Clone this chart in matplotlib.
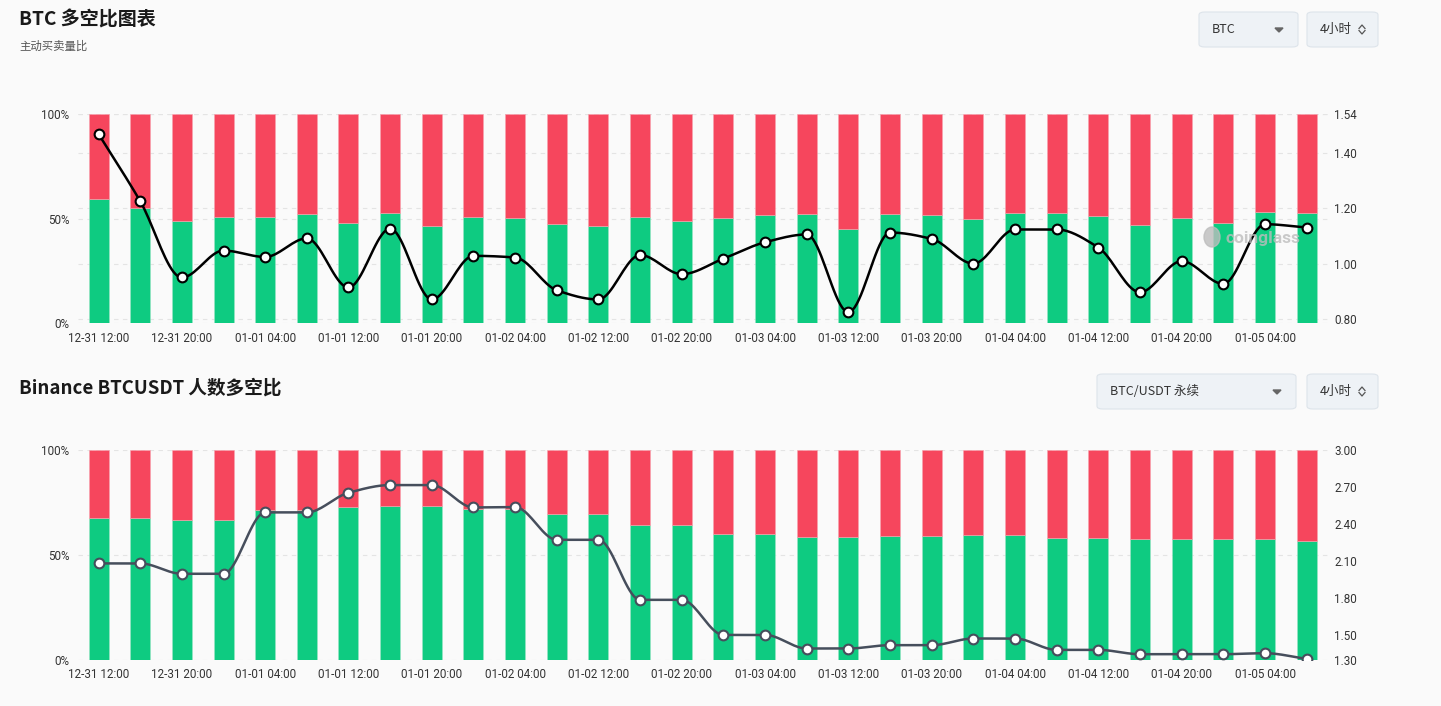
import numpy as np
import matplotlib.pyplot as plt
from matplotlib.patches import FancyBboxPatch, Ellipse
from matplotlib.lines import Line2D

plt.rcParams['font.family'] = ['Noto Sans CJK SC', 'DejaVu Sans']

# 时间轴 (4小时)
times = ["12-31 12:00", "12-31 16:00", "12-31 20:00", "01-01 00:00", "01-01 04:00", "01-01 08:00",
         "01-01 12:00", "01-01 16:00", "01-01 20:00", "01-02 00:00", "01-02 04:00", "01-02 08:00",
         "01-02 12:00", "01-02 16:00", "01-02 20:00", "01-03 00:00", "01-03 04:00", "01-03 08:00",
         "01-03 12:00", "01-03 16:00", "01-03 20:00", "01-04 00:00", "01-04 04:00", "01-04 08:00",
         "01-04 12:00", "01-04 16:00", "01-04 20:00", "01-05 00:00", "01-05 04:00", "01-05 08:00"]

# 主动买卖量比: 买入占比 (%) 和 多空比
taker_buy_pct = [59.4, 54.9, 48.7, 50.9, 50.6, 52.1, 47.8, 52.9, 46.5, 50.6,
                 50.5, 47.3, 46.3, 50.6, 48.9, 50.3, 51.6, 52.4, 44.9, 52.4,
                 51.9, 49.8, 52.7, 52.7, 51.3, 47.1, 50.2, 47.9, 53.3, 52.9]
taker_ratio = [1.468, 1.226, 0.951, 1.048, 1.025, 1.092, 0.915, 1.127, 0.872, 1.029,
               1.023, 0.905, 0.872, 1.032, 0.963, 1.019, 1.078, 1.106, 0.826, 1.113,
               1.090, 1.001, 1.124, 1.124, 1.059, 0.898, 1.010, 0.928, 1.143, 1.131]

# Binance BTCUSDT 人数多空比: 多头占比 (%) 和 多空比
acct_long_pct = [67.6, 67.6, 66.7, 66.7, 71.4, 71.4, 72.9, 73.2, 73.2, 71.7,
                 71.7, 69.5, 69.5, 64.1, 64.1, 60.2, 60.2, 58.4, 58.4, 58.9,
                 58.9, 59.7, 59.7, 58.1, 58.1, 57.5, 57.5, 57.5, 57.6, 56.7]
acct_ratio = [2.082, 2.082, 1.998, 1.998, 2.495, 2.495, 2.654, 2.716, 2.716, 2.535,
              2.538, 2.273, 2.273, 1.787, 1.787, 1.503, 1.503, 1.393, 1.393, 1.420,
              1.420, 1.474, 1.474, 1.382, 1.382, 1.347, 1.347, 1.347, 1.355, 1.309]

right_ticks_top = [0.80, 1.00, 1.20, 1.40, 1.54]
right_ticks_bot = [1.30, 1.50, 1.80, 2.10, 2.40, 2.70, 3.00]

GREEN = '#0ecb81'
RED = '#f6465d'
BG = '#fafafa'
GRID = '#e4e4e4'
W, H = 1441, 706


def pchip(y, n=20):
    # 单调三次插值, 平滑折线
    y = np.asarray(y, float)
    x = np.arange(len(y), dtype=float)
    d = np.diff(y)
    m = np.zeros_like(y)
    for i in range(1, len(y) - 1):
        if d[i - 1] * d[i] > 0:
            m[i] = 2 * d[i - 1] * d[i] / (d[i - 1] + d[i])
    m[0], m[-1] = d[0], d[-1]
    xs, ys = [], []
    for i in range(len(y) - 1):
        t = np.linspace(0, 1, n, endpoint=False)
        h00 = 2 * t**3 - 3 * t**2 + 1
        h10 = t**3 - 2 * t**2 + t
        h01 = -2 * t**3 + 3 * t**2
        h11 = t**3 - t**2
        xs.append(x[i] + t)
        ys.append(h00 * y[i] + h10 * m[i] + h01 * y[i + 1] + h11 * m[i + 1])
    xs.append([x[-1]])
    ys.append([y[-1]])
    return np.concatenate(xs), np.concatenate(ys)


def fx(px):
    return px / W


def fy(py):
    return 1 - py / H


fig = plt.figure(figsize=(W / 100, H / 100), dpi=100, facecolor=BG)


def panel(rect, pct, ratio, ylim2, rticks, line_color, right_grid):
    ax = fig.add_axes(rect)
    ax.set_facecolor(BG)
    x = np.arange(len(times))
    red = [100 - p for p in pct]
    ax.bar(x, pct, width=0.48, color=GREEN, edgecolor='#9be5c5', linewidth=0.4, zorder=2)
    ax.bar(x, red, bottom=pct, width=0.48, color=RED, edgecolor='#f7a4af', linewidth=0.4, zorder=2)
    ax.set_xlim(-0.5, len(times) - 0.5)
    ax.set_ylim(0, 100)
    ax.set_yticks([0, 50, 100])
    ax.set_yticklabels(['0%', '50%', '100%'])
    ax.set_xticks(x[::2])
    ax.set_xticklabels(times[::2])
    ax.yaxis.grid(True, linestyle=(0, (4, 4)), color=GRID, linewidth=0.8, zorder=0)
    ax.set_axisbelow(True)
    ax.tick_params(length=0, labelsize=8.4, colors='#333333', pad=6)
    for lab in ax.get_xticklabels() + ax.get_yticklabels():
        lab.set_family('Roboto')
    for s in ax.spines.values():
        s.set_visible(False)
    if right_grid:
        # 右轴网格线画在柱子后面
        lo, hi = ylim2
        for v in rticks:
            ax.axhline((v - lo) / (hi - lo) * 100, linestyle=(0, (4, 4)), color=GRID,
                       linewidth=0.8, zorder=0)

    ax2 = ax.twinx()
    ax2.set_ylim(*ylim2)
    ax2.set_yticks(rticks)
    ax2.set_yticklabels(['%.2f' % v for v in rticks])
    ax2.tick_params(length=0, labelsize=8.4, colors='#333333', pad=5)
    for lab in ax2.get_yticklabels():
        lab.set_family('Roboto')
    for s in ax2.spines.values():
        s.set_visible(False)
    sx, sy = pchip(ratio)
    ax2.plot(sx, sy, color=line_color, linewidth=1.8, zorder=4)
    ax2.plot(x, ratio, linestyle='none', marker='o', markersize=7,
             markerfacecolor='white', markeredgecolor=line_color, markeredgewidth=1.5, zorder=5)
    return ax, ax2


ax_top, ax_top2 = panel([fx(77.7), fy(323.3), fx(1249.8), 209.3 / H],
                        taker_buy_pct, taker_ratio, (0.786, 1.54), right_ticks_top, '#000000', True)
ax_bot, ax_bot2 = panel([fx(77.7), fy(660), fx(1249.8), 210 / H],
                        acct_long_pct, acct_ratio, (1.30, 3.00), right_ticks_bot, '#464e5c', False)

# watermark
fig.text(fx(1226), fy(238), 'coinglass', fontsize=12.5, fontweight='bold', color='#bdbdbd',
         alpha=0.8, family='Roboto', va='center', ha='left', zorder=10)
fig.patches.append(Ellipse((fx(1212), fy(237)), 16 / W, 20 / H, transform=fig.transFigure,
                           color='#bdbdbd', alpha=0.8, zorder=10))

# titles
fig.text(fx(19), fy(20), 'BTC 多空比图表', fontsize=13.7, fontweight='bold', color='#1a1a1a', va='center')
fig.text(fx(19), fy(46), '主动买卖量比', fontsize=8.2, color='#555555', va='center')
fig.text(fx(19), fy(388), 'Binance BTCUSDT 人数多空比', fontsize=13.4, fontweight='bold',
         color='#1a1a1a', va='center')


def dropdown(x0, y0, x1, y1, label, caret):
    box = FancyBboxPatch((fx(x0), fy(y1)), fx(x1 - x0), (y1 - y0) / H,
                         boxstyle='round,pad=0,rounding_size=0.004', transform=fig.transFigure,
                         facecolor='#eef2f6', edgecolor='#dde4ea', linewidth=0.8)
    fig.patches.append(box)
    cy = (y0 + y1) / 2
    fig.text(fx(x0 + 13), fy(cy), label, fontsize=9, color='#333333', va='center', ha='left')
    if caret:
        cx = x1 - 19
        fig.patches.append(plt.Polygon([(fx(cx - 4), fy(cy - 1.5)), (fx(cx + 4), fy(cy - 1.5)),
                                        (fx(cx), fy(cy + 2.5))], closed=True,
                                       transform=fig.transFigure, color='#666666'))
    else:
        cx = x1 - 16
        for sgn in (1, -1):
            yy = cy - sgn * 3
            fig.lines.append(Line2D([fx(cx - 3), fx(cx), fx(cx + 3)],
                                    [fy(yy + sgn * 2), fy(yy - sgn * 1.5), fy(yy + sgn * 2)],
                                    transform=fig.transFigure, color='#555555', linewidth=0.9))


dropdown(1199, 12, 1298, 47, 'BTC', True)
dropdown(1307, 12, 1378, 47, '4小时', False)
dropdown(1097, 374, 1296, 409, 'BTC/USDT 永续', True)
dropdown(1307, 374, 1378, 409, '4小时', False)

fig.savefig('out.png', dpi=100, facecolor=BG)
